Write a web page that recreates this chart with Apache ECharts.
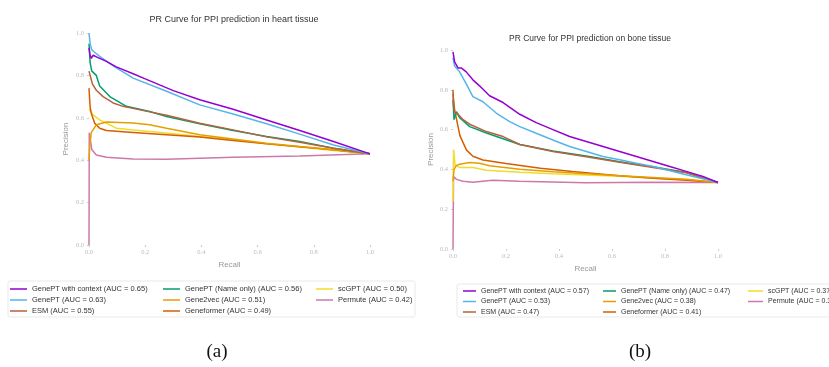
<!DOCTYPE html>
<html>
<head>
<meta charset="utf-8">
<script src="https://cdn.jsdelivr.net/npm/echarts@6/dist/echarts.min.js"></script>
<style>
  html, body { margin: 0; padding: 0; background: #fff; }
  #main { width: 829px; height: 367px; }
</style>
</head>
<body>
<div id="main"></div>
<script>
// colours, one per model (same order in both panels)
var colors = ['#9400d3', '#56b4e9', '#b8613a', '#009e73', '#e69f00', '#d55e00', '#f0dc2a', '#cc79a7'];

var heartNames = [
    'GenePT with context (AUC = 0.65)', 'GenePT (AUC = 0.63)', 'ESM (AUC = 0.55)',
    'GenePT (Name only) (AUC = 0.56)', 'Gene2vec (AUC = 0.51)', 'Geneformer (AUC = 0.49)',
    'scGPT (AUC = 0.50)', 'Permute (AUC = 0.42)'
];
var boneNames = [
    'GenePT with context (AUC = 0.57)', 'GenePT (AUC = 0.53)', 'ESM (AUC = 0.47)',
    'GenePT (Name only) (AUC = 0.47)', 'Gene2vec (AUC = 0.38)', 'Geneformer (AUC = 0.41)',
    'scGPT (AUC = 0.37)', 'Permute (AUC = 0.33)'
];

// (a) heart tissue, [recall, precision]
var heartContext = [[0, 0.93], [0.003, 0.9], [0.008, 0.88], [0.015, 0.895], [0.03, 0.885], [0.062, 0.866], [0.097, 0.84], [0.157, 0.808], [0.198, 0.785], [0.3, 0.728], [0.394, 0.685], [0.513, 0.64], [0.632, 0.59], [0.75, 0.54], [0.87, 0.488], [1, 0.43]];
var heartGenePT = [[0, 1.0], [0.004, 0.95], [0.01, 0.92], [0.038, 0.89], [0.086, 0.845], [0.157, 0.787], [0.276, 0.725], [0.394, 0.661], [0.513, 0.618], [0.632, 0.572], [0.75, 0.523], [0.87, 0.472], [1, 0.43]];
var heartESM = [[0, 0.82], [0.006, 0.79], [0.012, 0.76], [0.026, 0.73], [0.05, 0.7], [0.086, 0.67], [0.121, 0.654], [0.216, 0.628], [0.276, 0.612], [0.394, 0.574], [0.513, 0.543], [0.632, 0.51], [0.75, 0.485], [0.87, 0.456], [1, 0.43]];
var heartName = [[0, 0.95], [0.004, 0.86], [0.01, 0.82], [0.026, 0.8], [0.038, 0.75], [0.074, 0.7], [0.133, 0.654], [0.216, 0.63], [0.276, 0.606], [0.394, 0.572], [0.513, 0.54], [0.632, 0.512], [0.75, 0.488], [0.87, 0.457], [1, 0.43]];
var heartGene2vec = [[0, 0.4], [0.003, 0.47], [0.008, 0.53], [0.026, 0.567], [0.062, 0.58], [0.157, 0.575], [0.216, 0.567], [0.276, 0.551], [0.394, 0.52], [0.513, 0.5], [0.632, 0.48], [0.75, 0.465], [0.87, 0.449], [1, 0.43]];
var heartGeneformer = [[0, 0.74], [0.004, 0.65], [0.008, 0.622], [0.02, 0.575], [0.038, 0.551], [0.062, 0.54], [0.157, 0.531], [0.276, 0.52], [0.394, 0.509], [0.513, 0.493], [0.632, 0.477], [0.75, 0.463], [0.87, 0.449], [1, 0.43]];
var heartScGPT = [[0, 0.64], [0.006, 0.63], [0.014, 0.614], [0.038, 0.59], [0.097, 0.551], [0.157, 0.543], [0.276, 0.528], [0.394, 0.512], [0.513, 0.496], [0.632, 0.477], [0.75, 0.462], [0.87, 0.446], [1, 0.43]];
var heartPermute = [[0, 0], [0.001, 0.53], [0.01, 0.45], [0.026, 0.425], [0.062, 0.414], [0.157, 0.406], [0.276, 0.405], [0.513, 0.414], [0.75, 0.42], [1, 0.43]];

// (b) bone tissue
var boneContext = [[0, 0.99], [0.006, 0.94], [0.019, 0.91], [0.031, 0.91], [0.05, 0.89], [0.075, 0.85], [0.1, 0.82], [0.138, 0.77], [0.189, 0.736], [0.252, 0.677], [0.314, 0.635], [0.377, 0.6], [0.44, 0.565], [0.503, 0.54], [0.566, 0.515], [0.629, 0.49], [0.692, 0.465], [0.755, 0.44], [0.818, 0.415], [0.88, 0.39], [0.943, 0.365], [1, 0.334]];
var boneGenePT = [[0, 0.96], [0.006, 0.92], [0.025, 0.89], [0.05, 0.83], [0.075, 0.766], [0.113, 0.74], [0.164, 0.682], [0.214, 0.64], [0.252, 0.615], [0.314, 0.582], [0.377, 0.548], [0.44, 0.515], [0.503, 0.49], [0.566, 0.465], [0.629, 0.448], [0.692, 0.431], [0.755, 0.415], [0.88, 0.373], [1, 0.334]];
var boneESM = [[0, 0.8], [0.002, 0.72], [0.006, 0.685], [0.019, 0.677], [0.038, 0.65], [0.063, 0.627], [0.126, 0.59], [0.189, 0.565], [0.252, 0.525], [0.377, 0.49], [0.503, 0.463], [0.629, 0.436], [0.755, 0.41], [0.88, 0.383], [1, 0.334]];
var boneName = [[0, 0.75], [0.004, 0.65], [0.013, 0.69], [0.025, 0.66], [0.063, 0.615], [0.126, 0.583], [0.252, 0.525], [0.377, 0.492], [0.503, 0.467], [0.629, 0.438], [0.755, 0.413], [0.88, 0.385], [1, 0.334]];
var boneGene2vec = [[0, 0.34], [0.004, 0.4], [0.013, 0.42], [0.025, 0.426], [0.063, 0.435], [0.1, 0.431], [0.138, 0.418], [0.252, 0.401], [0.377, 0.388], [0.629, 0.368], [0.88, 0.351], [1, 0.334]];
var boneGeneformer = [[0, 0.78], [0.006, 0.7], [0.014, 0.648], [0.026, 0.57], [0.051, 0.497], [0.075, 0.466], [0.113, 0.447], [0.2, 0.43], [0.33, 0.406], [0.45, 0.39], [0.629, 0.368], [0.755, 0.356], [0.88, 0.345], [1, 0.334]];
var boneScGPT = [[0, 0.24], [0.002, 0.5], [0.008, 0.42], [0.025, 0.41], [0.075, 0.41], [0.126, 0.396], [0.252, 0.386], [0.377, 0.378], [0.629, 0.366], [0.88, 0.348], [1, 0.334]];
var bonePermute = [[0, 0], [0.002, 0.364], [0.013, 0.35], [0.038, 0.34], [0.075, 0.336], [0.15, 0.346], [0.25, 0.34], [0.5, 0.333], [0.755, 0.336], [1, 0.334]];

var heartData = [heartContext, heartGenePT, heartESM, heartName, heartGene2vec, heartGeneformer, heartScGPT, heartPermute];
var boneData = [boneContext, boneGenePT, boneESM, boneName, boneGene2vec, boneGeneformer, boneScGPT, bonePermute];

var chart = echarts.init(document.getElementById('main'), null, { renderer: 'canvas' });

var sans = 'Liberation Sans, Arial, sans-serif';
var serif = 'Liberation Serif, DejaVu Serif, serif';

function makeAxis(idx, name, gap, isY) {
    return {
        type: 'value',
        gridIndex: idx,
        min: 0,
        max: 1,
        interval: 0.2,
        name: name,
        nameLocation: 'middle',
        nameGap: gap,
        nameTextStyle: { color: '#999', fontSize: 8, fontFamily: sans },
        axisLine: { show: false },
        axisTick: { show: true, length: 2, lineStyle: { color: '#ccc' } },
        axisLabel: {
            color: '#bbb', fontSize: 6.5, fontFamily: serif, margin: isY ? 5 : 4,
            formatter: function (v) { return v.toFixed(1); }
        },
        splitLine: { show: false }
    };
}

function makeSeries(names, data, idx) {
    return names.map(function (n, i) {
        return {
            name: n,
            type: 'line',
            xAxisIndex: idx,
            yAxisIndex: idx,
            data: data[i],
            showSymbol: false,
            symbol: 'none',
            lineStyle: { width: 1.5, color: colors[i] },
            itemStyle: { color: colors[i] },
            z: 10 - i
        };
    });
}

function makeLegend(names, left, top, size, w, gap) {
    return {
        orient: 'vertical',
        left: left,
        top: top,
        data: names,
        icon: 'rect',
        itemWidth: w,
        itemHeight: 1.5,
        itemGap: gap,
        padding: 0,
        selectedMode: false,
        textStyle: { fontSize: size, fontFamily: sans, color: '#333', lineHeight: 9 }
    };
}

// legend columns are filled column by column, as in the picture
var cols = [[0, 1, 2], [3, 4, 5], [6, 7]];
function pick(names, c) { return cols[c].map(function (i) { return names[i]; }); }

chart.setOption({
    animation: false,
    backgroundColor: '#fff',
    title: [
        { text: 'PR Curve for PPI prediction in heart tissue', left: 229, top: 10, textAlign: 'center',
          textStyle: { fontSize: 9, fontWeight: 'normal', color: '#333', fontFamily: sans } },
        { text: 'PR Curve for PPI prediction on bone tissue', left: 585, top: 29, textAlign: 'center',
          textStyle: { fontSize: 8.5, fontWeight: 'normal', color: '#333', fontFamily: sans } },
        { text: '(a)', left: 212, top: 338, textAlign: 'center',
          textStyle: { fontSize: 19, fontWeight: 'normal', color: '#111', fontFamily: serif } },
        { text: '(b)', left: 635, top: 338, textAlign: 'center',
          textStyle: { fontSize: 19, fontWeight: 'normal', color: '#111', fontFamily: serif } }
    ],
    grid: [
        { left: 89, right: 459, top: 33, bottom: 122 },
        { left: 453, right: 111, top: 50, bottom: 118 }
    ],
    xAxis: [makeAxis(0, 'Recall', 15, false), makeAxis(1, 'Recall', 15, false)],
    yAxis: [makeAxis(0, 'Precision', 19, true), makeAxis(1, 'Precision', 18, true)],
    legend: [
        makeLegend(pick(heartNames, 0), 10, 284.5, 7.5, 17, 2),
        makeLegend(pick(heartNames, 1), 163, 284.5, 7.5, 17, 2),
        makeLegend(pick(heartNames, 2), 316, 284.5, 7.5, 17, 2),
        makeLegend(pick(boneNames, 0), 463, 286.5, 7, 13, 1.5),
        makeLegend(pick(boneNames, 1), 603, 286.5, 7, 13, 1.5),
        makeLegend(pick(boneNames, 2), 748, 286.5, 7, 15, 1.5)
    ],
    graphic: [
        { type: 'rect', shape: { x: 8, y: 281, width: 407, height: 36, r: 2 }, silent: true,
          style: { fill: 'none', stroke: '#e3e3e3', lineWidth: 0.8 } },
        { type: 'rect', shape: { x: 457, y: 284, width: 400, height: 33, r: 2 }, silent: true,
          style: { fill: 'none', stroke: '#e3e3e3', lineWidth: 0.8 } }
    ],
    series: makeSeries(heartNames, heartData, 0).concat(makeSeries(boneNames, boneData, 1))
});
</script>
</body>
</html>
